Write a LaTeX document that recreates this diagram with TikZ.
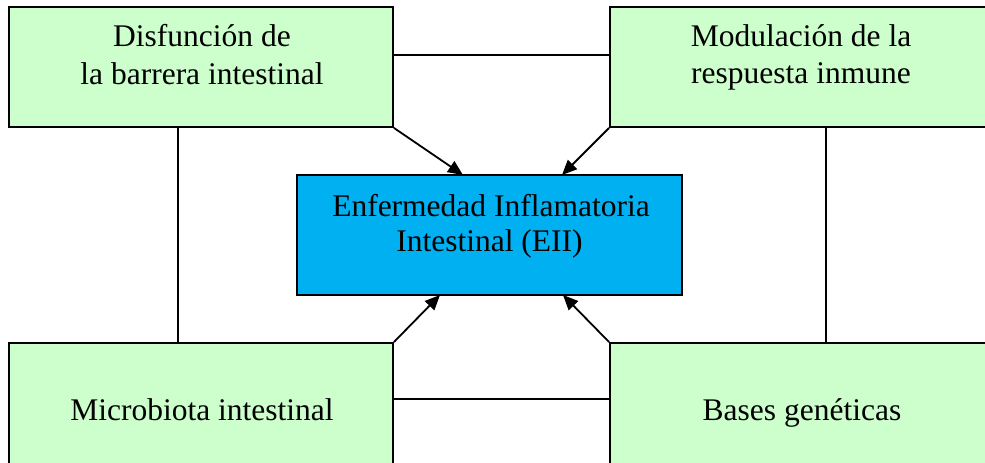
\documentclass[tikz,border=0pt]{standalone}
\usepackage{fontspec}
\setmainfont{Liberation Serif}
\usetikzlibrary{arrows.meta}
\definecolor{boxgreen}{HTML}{CCFFCC}
\definecolor{boxblue}{HTML}{00B0F0}
\tikzset{
  box/.style={draw=black, line width=1.8pt, rectangle, minimum width=384pt, minimum height=120pt, inner sep=0pt, anchor=center},
  greenbox/.style={box, fill=boxgreen},
  bluebox/.style={box, fill=boxblue, minimum width=385pt},
  txt/.style={anchor=base, inner sep=0pt, font=\fontsize{31.5}{38}\selectfont},
  link/.style={line width=1.8pt, black},
  arr/.style={line width=1.8pt, black, -{Triangle[length=15pt,width=13pt]}}
}
\begin{document}
\begin{tikzpicture}[x=1pt,y=-1pt]
\useasboundingbox (0,0) rectangle (985,463);
\clip (0,0) rectangle (985,463);
\fill[white] (0,0) rectangle (985,463);
% boxes
\node[greenbox] (tl) at (201,67) {};
\node[greenbox] (tr) at (802,67) {};
\node[greenbox, minimum height=122pt] (bl) at (201,404) {};
\node[greenbox, minimum height=122pt] (br) at (802,404) {};
\node[bluebox] (c) at (489.5,235) {};
% texts
\node[txt] (tla) at (202,46) {Disfunción de};
\node[txt] (tlb) at (202,84) {la barrera intestinal};
\node[txt] (tra) at (801,46) {Modulación de la};
\node[txt] (trb) at (801,83) {respuesta inmune};
\node[txt] (ca) at (491,216) {Enfermedad Inflamatoria};
\node[txt] (cb) at (489.5,251) {Intestinal (EII)};
\node[txt] (bla) at (202,420) {Microbiota intestinal};
\node[txt] (bra) at (802,420) {Bases genéticas};
% arrow targets
\coordinate (t1) at (463,175);
\coordinate (t2) at (562,175);
\coordinate (t3) at (440,295);
\coordinate (t4) at (563,295);
% plain links
\coordinate (h1a) at (393,55);
\coordinate (h1b) at (610,55);
\coordinate (h2a) at (393,399);
\coordinate (h2b) at (610,399);
\coordinate (v1a) at (178,127);
\coordinate (v1b) at (178,343);
\coordinate (v2a) at (826,127);
\coordinate (v2b) at (826,343);
\draw[link] (h1a) -- (h1b);
\draw[link] (h2a) -- (h2b);
\draw[link] (v1a) -- (v1b);
\draw[link] (v2a) -- (v2b);
% arrows
\draw[arr] (tl.south east) -- (t1);
\draw[arr] (tr.south west) -- (t2);
\draw[arr] (bl.north east) -- (t3);
\draw[arr] (br.north west) -- (t4);
\end{tikzpicture}
\end{document}
